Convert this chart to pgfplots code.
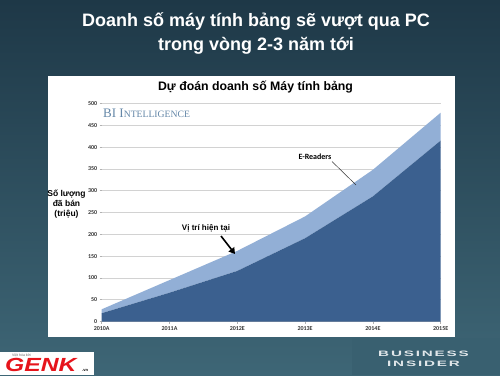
\documentclass[border=0pt]{standalone}
\usepackage{pgfplots}
\pgfplotsset{compat=1.18}
\usepackage{fontspec}
\setmainfont{Liberation Sans}
\newfontfamily\carlito{Carlito}
\newfontfamily\tserif{Liberation Serif}
\newfontfamily\bifont[LetterSpace=12]{Liberation Sans}
\usetikzlibrary{arrows.meta}
\definecolor{bgtop}{RGB}{30,56,71}
\definecolor{bgbot}{RGB}{62,102,118}
\definecolor{darkarea}{RGB}{59,96,143}
\definecolor{lightarea}{RGB}{146,175,214}
\definecolor{bitext}{RGB}{100,135,168}
\definecolor{bibox}{RGB}{57,96,112}
\definecolor{genkred}{RGB}{230,20,27}
\begin{document}
\begin{tikzpicture}[x=1pt,y=1pt]
\shade[top color=bgtop, bottom color=bgbot] (0,0) rectangle (500,375);
\fill[bibox] (352,0) rectangle (500,37);
\fill[white] (48,38) rectangle (455,299);
% titles
\node[text=white, font=\bfseries\fontsize{18}{20}\selectfont, anchor=base] at (256,348) {Doanh số máy tính bảng sẽ vượt qua PC};
\node[text=white, font=\bfseries\fontsize{18}{20}\selectfont, anchor=base] at (256,324.5) {trong vòng 2-3 năm tới};
\node[text=black, font=\bfseries\fontsize{12.3}{14}\selectfont, anchor=base] at (255.5,284) {Dự đoán doanh số Máy tính bảng};
\begin{axis}[at={(101.7pt,53.5pt)}, anchor=south west, scale only axis,
  width=339pt, height=218pt, xmin=0, xmax=5, ymin=0, ymax=500,
  xtick={0,1,2,3,4,5}, xticklabels={2010A,2011A,2012E,2013E,2014E,2015E},
  ytick={0,50,...,500}, ymajorgrids, grid style={gray!35, line width=0.6pt},
  axis x line*=bottom, axis y line*=left,
  x axis line style={gray!60, line width=0.5pt},
  y axis line style={draw=none},
  tick style={gray!60, line width=0.5pt}, tick align=outside,
  major tick length=2pt,
  /pgf/number format/assume math mode=true,
  ticklabel style={font=\carlito\bfseries\fontsize{6}{7}\selectfont, text=black!80},
  yticklabel style={xshift=1pt},
  stack plots=y, clip=false]
\addplot[fill=darkarea, draw=none] coordinates {(0,19) (1,66) (2,116) (3,191) (4,287) (5,415)} \closedcycle;
\addplot[fill=lightarea, draw=none] coordinates {(0,9) (1,29) (2,46) (3,50) (4,61) (5,64)} \closedcycle;
\end{axis}
% BI Intelligence
\node[anchor=base west, inner sep=0, text=bitext, font=\tserif\fontsize{13}{14}\selectfont] at (103,257.7) {BI I{\fontsize{9.7}{11}\selectfont NTELLIGENCE}};
% y label
\node[align=center, font=\bfseries\fontsize{8.5}{9.8}\selectfont, text=black] at (66.5,171) {Số lượng\\đã bán\\(triệu)};
% annotations
\node[fill=white, inner sep=1.5pt, font=\bfseries\fontsize{8}{9}\selectfont] at (206,147) {Vị trí hiện tại};
\draw[black, line width=1.6pt, -{Triangle[length=6pt,width=7pt]}] (221,139) -- (235,121);
\node[font=\carlito\bfseries\fontsize{8}{9}\selectfont] at (315,218) {E-Readers};
\draw[black!80, line width=0.5pt] (332,213.5) -- (356,190);
% GENK logo
\fill[white] (0,0) rectangle (94,23);
\node[anchor=base west, inner sep=0, text=black!60, font=\fontsize{3.5}{4}\selectfont] at (12,18.5) {Việt hóa bởi};
\node[anchor=base west, inner sep=0, text=genkred, font=\bfseries\itshape\fontsize{19}{20}\selectfont] at (5,3.5) {\scalebox{1.3}[1]{GENK}};
\node[anchor=base west, inner sep=0, text=black, font=\bfseries\fontsize{4}{5}\selectfont] at (82,4) {.vn};
% Business Insider
\node[anchor=base, inner sep=0, text=white!85!bibox, font=\bifont\bfseries\fontsize{7.8}{8}\selectfont] at (423.5,19) {\scalebox{1.95}[1]{BUSINESS}};
\node[anchor=base, inner sep=0, text=white!85!bibox, font=\bifont\bfseries\fontsize{7.8}{8}\selectfont] at (423.5,9) {\scalebox{1.95}[1]{INSIDER}};
\end{tikzpicture}
\end{document}
